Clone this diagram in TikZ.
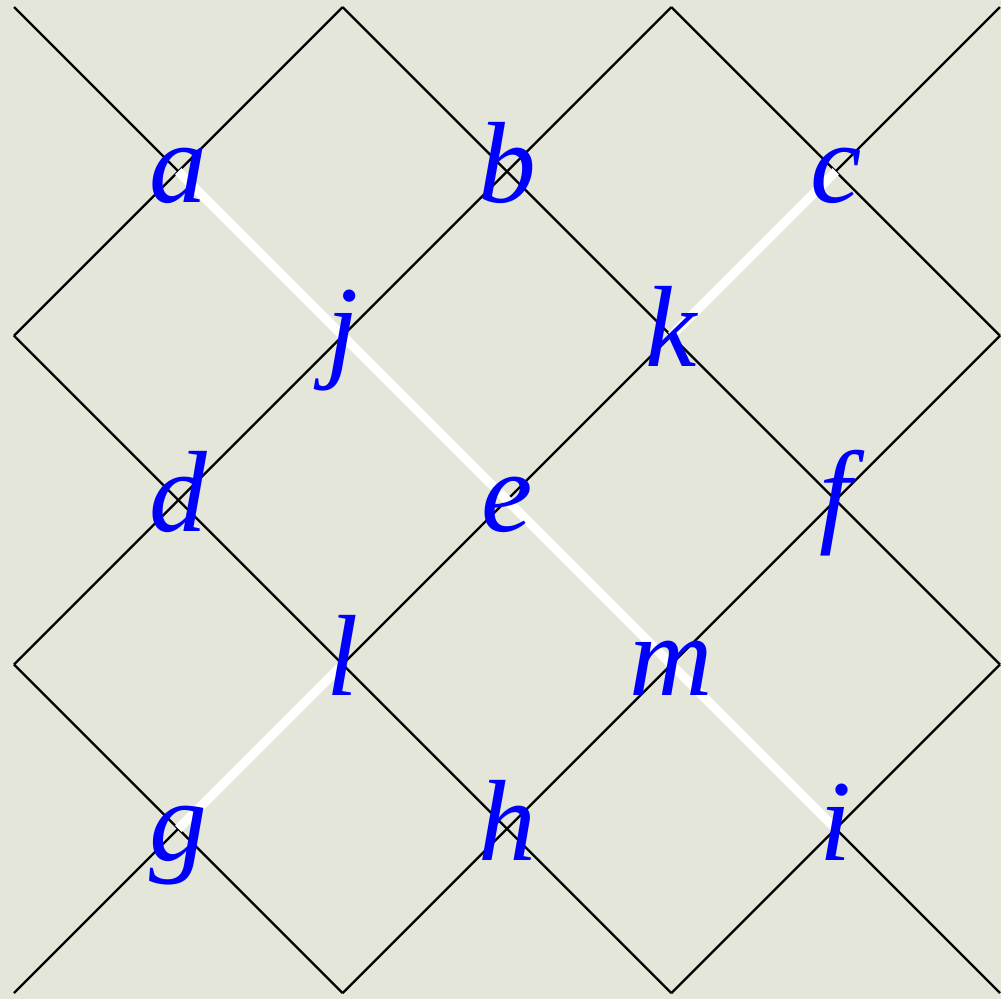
\documentclass[tikz,border=0pt]{standalone}
\usepackage{fontspec}
\setmainfont{Liberation Serif}
\usetikzlibrary{positioning}
\definecolor{canvas}{RGB}{227,230,217}

\begin{document}
\begin{tikzpicture}[scale=1,
    grid/.style={black,line width=0.4pt},
    path/.style={white,line width=1.6pt},
    lab/.style={blue,anchor=base,yshift=-0.19cm,inner sep=0pt,
                font=\fontsize{20}{24}\selectfont\itshape}]
    % 背景
    \fill[canvas] (-0.085,-0.037) rectangle (6.006,6.043);
    \useasboundingbox (-0.085,-0.037) rectangle (6.006,6.043);

    % 边界点
    \coordinate (tl) at (0,6);
    \coordinate (t2) at (2,6);
    \coordinate (t4) at (4,6);
    \coordinate (tr) at (6,6);
    \coordinate (l4) at (0,4);
    \coordinate (l2) at (0,2);
    \coordinate (r4) at (6,4);
    \coordinate (r2) at (6,2);
    \coordinate (bl) at (0,0);
    \coordinate (b2) at (2,0);
    \coordinate (b4) at (4,0);
    \coordinate (br) at (6,0);

    % 交点
    \coordinate (a) at (1,5);
    \coordinate (b) at (3,5);
    \coordinate (c) at (5,5);
    \coordinate (j) at (2,4);
    \coordinate (k) at (4,4);
    \coordinate (d) at (1,3);
    \coordinate (e) at (3,3);
    \coordinate (f) at (5,3);
    \coordinate (l) at (2,2);
    \coordinate (m) at (4,2);
    \coordinate (g) at (1,1);
    \coordinate (h) at (3,1);
    \coordinate (i) at (5,1);

    % 网格
    \draw[grid] (tl) -- (br);
    \draw[grid] (t2) -- (l4);
    \draw[grid] (t2) -- (r2);
    \draw[grid] (t4) -- (l2);
    \draw[grid] (t4) -- (r4);
    \draw[grid] (tr) -- (bl);
    \draw[grid] (l4) -- (b4);
    \draw[grid] (l2) -- (b2);
    \draw[grid] (r4) -- (b2);
    \draw[grid] (r2) -- (b4);

    % 白色路径
    \draw[path] (a) -- (j) -- (e) -- (m) -- (i);
    \draw[path] (c) -- (k);
    \draw[path] (l) -- (g);

    % 标记
    \foreach \p in {a,b,c,j,k,d,e,f,l,m,g,h,i}
        \node[lab] (n\p) at (\p) {\p};
\end{tikzpicture}
\end{document}
